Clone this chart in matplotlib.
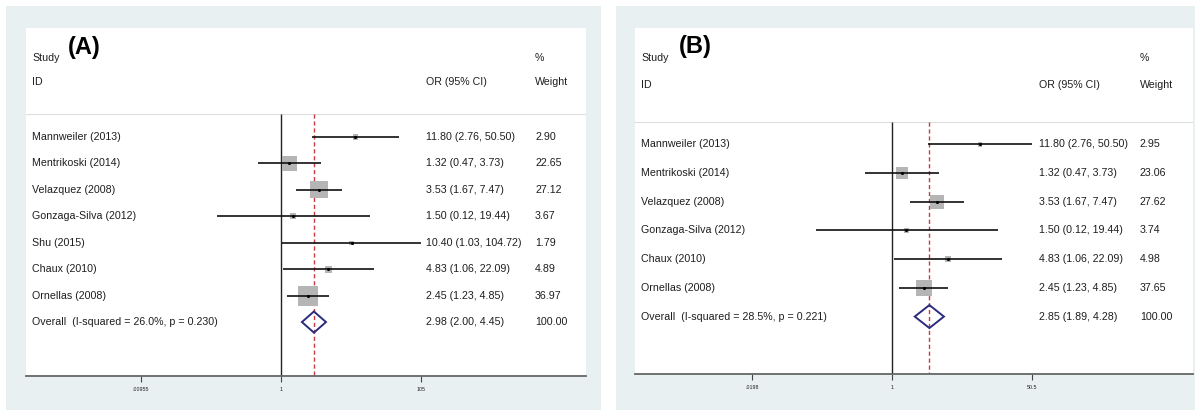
import matplotlib.pyplot as plt
from matplotlib.patches import Rectangle, Polygon
import numpy as np

plt.rcParams['font.family'] = ['Liberation Sans', 'DejaVu Sans']

# panel A: all studies
studies_a = ["Mannweiler (2013)", "Mentrikoski (2014)", "Velazquez (2008)",
             "Gonzaga-Silva (2012)", "Shu (2015)", "Chaux (2010)", "Ornellas (2008)"]
or_a = [11.80, 1.32, 3.53, 1.50, 10.40, 4.83, 2.45]
lo_a = [2.76, 0.47, 1.67, 0.12, 1.03, 1.06, 1.23]
hi_a = [50.50, 3.73, 7.47, 19.44, 104.72, 22.09, 4.85]
w_a = [2.90, 22.65, 27.12, 3.67, 1.79, 4.89, 36.97]
overall_a = [2.98, 2.00, 4.45]
het_a = [26.0, 0.230]
ticks_a = [0.00955, 1, 105]
ticklabels_a = [".00955", "1", "105"]

# panel B: Shu (2015) left out
studies_b = ["Mannweiler (2013)", "Mentrikoski (2014)", "Velazquez (2008)",
             "Gonzaga-Silva (2012)", "Chaux (2010)", "Ornellas (2008)"]
or_b = [11.80, 1.32, 3.53, 1.50, 4.83, 2.45]
lo_b = [2.76, 0.47, 1.67, 0.12, 1.06, 1.23]
hi_b = [50.50, 3.73, 7.47, 19.44, 22.09, 4.85]
w_b = [2.95, 23.06, 27.62, 3.74, 4.98, 37.65]
overall_b = [2.85, 1.89, 4.28]
het_b = [28.5, 0.221]
ticks_b = [0.0198, 1, 50.5]
ticklabels_b = [".0198", "1", "50.5"]

W, H = 1195, 412
BG = "#e9f0f2"
TXT = "#1e1e1e"
FS = 7.7

fig = plt.figure(figsize=(W / 100, H / 100), dpi=100)
fig.patch.set_facecolor("white")


def px_rect(x0, y0, x1, y1):
    return [x0 / W, 1 - y1 / H, (x1 - x0) / W, (y1 - y0) / H]


# light panel backgrounds (behind the axes)
for x0, y0, x1, y1 in [(6, 6, 601, 410), (616, 6, 1195, 410)]:
    l, b, w, h = px_rect(x0, y0, x1, y1)
    fig.patches.append(Rectangle((l, b), w, h, transform=fig.transFigure,
                                 facecolor=BG, edgecolor="none", zorder=-5))


def forest(box, xlog, ylim, studies, est, lo, hi, wt, overall, het,
           ticks, ticklabels, tag, cols, box_scale, head_line):
    ax = fig.add_axes(px_rect(*box))
    ax.set_facecolor("white")
    ax.set_xscale("log")
    ax.set_xlim(10 ** xlog[0], 10 ** xlog[1])
    ax.set_ylim(*ylim)
    for s in ["top", "left", "right"]:
        ax.spines[s].set_visible(False)
    ax.spines["bottom"].set_color("#666666")
    ax.spines["bottom"].set_linewidth(1.3)
    ax.set_yticks([])
    ax.set_xticks(ticks)
    ax.set_xticklabels(ticklabels)
    ax.xaxis.set_minor_locator(plt.NullLocator())
    ax.tick_params(axis="x", length=4, width=0.8, color="#444444",
                   labelsize=3.8, labelcolor=TXT, pad=4)

    n = len(studies)
    rows = np.arange(n)
    trans = ax.get_yaxis_transform()
    bottom = ylim[0]

    # header
    ax.axhline(head_line, color="#dddddd", lw=0.8, zorder=1)
    ax.text(cols[0], -3.0, "Study", transform=trans, fontsize=FS,
            color=TXT, va="center")
    ax.text(cols[0], -2.07, "ID", transform=trans, fontsize=FS,
            color=TXT, va="center")
    ax.text(cols[3], -3.4, tag, transform=trans, fontsize=17,
            fontweight="bold", color="black", va="center")
    ax.text(cols[1], -2.07, "OR (95% CI)", transform=trans, fontsize=FS,
            color=TXT, va="center")
    ax.text(cols[2], -3.0, "%", transform=trans, fontsize=FS,
            color=TXT, va="center")
    ax.text(cols[2], -2.07, "Weight", transform=trans, fontsize=FS,
            color=TXT, va="center")

    # null line and pooled estimate line
    ax.vlines(1, head_line, bottom, color="#222222", lw=1.0, zorder=2)
    ax.vlines(overall[0], head_line, bottom, color="#c83a44", lw=1.0,
              linestyles=(0, (3, 2)), zorder=2)

    # study estimates
    ax.scatter(est, rows, s=np.array(wt) * box_scale, marker="s",
               color="#b5b5b5", linewidths=0, zorder=3)
    ax.hlines(rows, lo, hi, color="#111111", lw=1.2, zorder=4)
    ax.scatter(est, rows, s=5, color="black", linewidths=0, zorder=5)

    # pooled diamond
    yo = n
    dx = [overall[1], overall[0], overall[2], overall[0]]
    dy = [yo, yo - 0.4, yo, yo + 0.4]
    ax.add_patch(Polygon(np.column_stack([dx, dy]), closed=True,
                         facecolor="none", edgecolor="#2b2b80", lw=1.4,
                         zorder=5))

    for i in range(n):
        ax.text(cols[0], i, studies[i], transform=trans, fontsize=FS,
                color=TXT, va="center")
        ax.text(cols[1], i, f"{est[i]:.2f} ({lo[i]:.2f}, {hi[i]:.2f})",
                transform=trans, fontsize=FS, color=TXT, va="center")
        ax.text(cols[2], i, f"{wt[i]:.2f}", transform=trans, fontsize=FS,
                color=TXT, va="center")
    ax.text(cols[0], yo, f"Overall  (I-squared = {het[0]:.1f}%, p = {het[1]:.3f})",
            transform=trans, fontsize=FS, color=TXT, va="center")
    ax.text(cols[1], yo, f"{overall[0]:.2f} ({overall[1]:.2f}, {overall[2]:.2f})",
            transform=trans, fontsize=FS, color=TXT, va="center")
    ax.text(cols[2], yo, "100.00", transform=trans, fontsize=FS,
            color=TXT, va="center")
    return ax


forest((26, 28, 586, 376), (-3.68, 4.40), (9.04, -4.12),
       studies_a, or_a, lo_a, hi_a, w_a, overall_a, het_a,
       ticks_a, ticklabels_a, "(A)", [0.011, 0.714, 0.909, 0.074],
       5.6, -0.87)

forest((635, 28, 1193, 374), (-3.127, 3.662), (8.0, -4.05),
       studies_b, or_b, lo_b, hi_b, w_b, overall_b, het_b,
       ticks_b, ticklabels_b, "(B)", [0.011, 0.724, 0.905, 0.078],
       3.5, -0.78)

fig.savefig("out.png", dpi=100, facecolor=fig.get_facecolor())
